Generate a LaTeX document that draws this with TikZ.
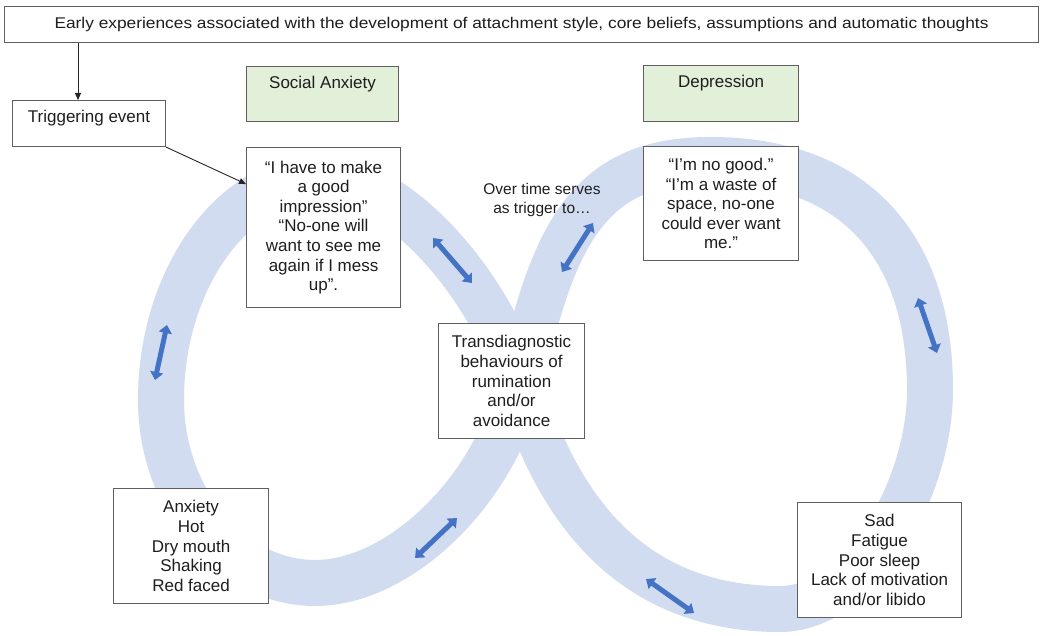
\documentclass[tikz,border=0pt]{standalone}
\usepackage{fontspec}
\setmainfont{Liberation Sans}
\usetikzlibrary{arrows.meta,calc}
\definecolor{bandc}{RGB}{209,220,240}
\definecolor{arrc}{RGB}{68,114,196}
\definecolor{grn}{RGB}{226,239,217}
\definecolor{edgec}{RGB}{95,95,95}
\definecolor{txt}{RGB}{30,30,30}
\begin{document}
\begin{tikzpicture}[x=1pt,y=-1pt,
  box/.style={draw=edgec, line width=1.1pt, fill=white, inner sep=0pt, align=center,
    anchor=north west, text=txt, font=\fontsize{17}{19.6}\selectfont},
  gbox/.style={box, fill=grn},
  conn/.style={draw=black!85, line width=0.9pt, -{Triangle[length=7pt,width=6pt]}},
  barr/.style={draw=arrc, line width=5pt,
    {Triangle[length=8pt,width=13pt]}-{Triangle[length=8pt,width=13pt]}},
  bandline/.style={draw=bandc, line width=46pt}
]
\useasboundingbox (0,0) rectangle (1045,636);
\fill[white] (0,0) rectangle (1045,636);

% infinity band
\draw[bandline] (520,384) .. controls (553,232) and (590,160) .. (710,160)
  .. controls (858,160) and (930,250) .. (930,390)
  .. controls (930,490) and (860,609) .. (780,609)
  .. controls (640,609) and (560,520) .. (520,384)
  .. controls (492,289) and (400,178) .. (321,178)
  .. controls (234,178) and (161,278) .. (161,400)
  .. controls (161,500) and (231,583) .. (315,583)
  .. controls (400,583) and (495,490) .. (520,384) -- cycle;

% blue double arrows
\draw[barr] (155,380) -- (167,325);
\draw[barr] (433,238) -- (472,283);
\draw[barr] (562,272) -- (593,223);
\draw[barr] (918,298) -- (937,353);
\draw[barr] (415,558) -- (457,518);
\draw[barr] (646,579) -- (694,613);

% boxes
\node[box, minimum width=1034pt, minimum height=36pt] (banner) at (4,6)
  {\fontsize{15.5}{18}\selectfont\resizebox{934pt}{\height}{Early experiences associated with the development of attachment style, core beliefs, assumptions and automatic thoughts}};
\node[box, minimum width=153pt, text height=22pt, text depth=24pt] (trig) at (12,100) {Triggering event};
\node[gbox, minimum width=152pt, text height=22pt, text depth=33pt] (sa) at (246,66) {Social Anxiety};
\node[gbox, minimum width=155pt, text height=22pt, text depth=34pt] (dep) at (643,65) {Depression};
\node[box, minimum width=154pt, minimum height=160pt] (sat) at (246,147)
  {“I have to make\\a good\\impression”\\“No-one will\\want to see me\\again if I mess\\up”.};
\node[box, minimum width=155pt, minimum height=114pt] (dept) at (643,146)
  {“I’m no good.”\\“I’m a waste of\\space, no-one\\could ever want\\me.”};
\node[box, minimum width=146pt, minimum height=115pt] (ctr) at (438,323)
  {Transdiagnostic\\behaviours of\\rumination\\and/or\\avoidance};
\node[box, minimum width=155pt, minimum height=115pt] (anx) at (113,488)
  {Anxiety\\Hot\\Dry mouth\\Shaking\\Red faced};
\node[box, minimum width=164pt, minimum height=115pt] (sad) at (797,502)
  {Sad\\Fatigue\\Poor sleep\\Lack of motivation\\and/or libido};
\node[align=center, text=txt, font=\fontsize{15.5}{19}\selectfont] (over) at (542,200)
  {Over time serves\\as trigger to…};

% connectors
\draw[conn] ($(banner.south west)+(74,0)$) -- ($(trig.north west)+(66,0)$);
\draw[conn] (trig.south east) -- ($(sat.north west)!0.23!(sat.south west)$);
\end{tikzpicture}
\end{document}
